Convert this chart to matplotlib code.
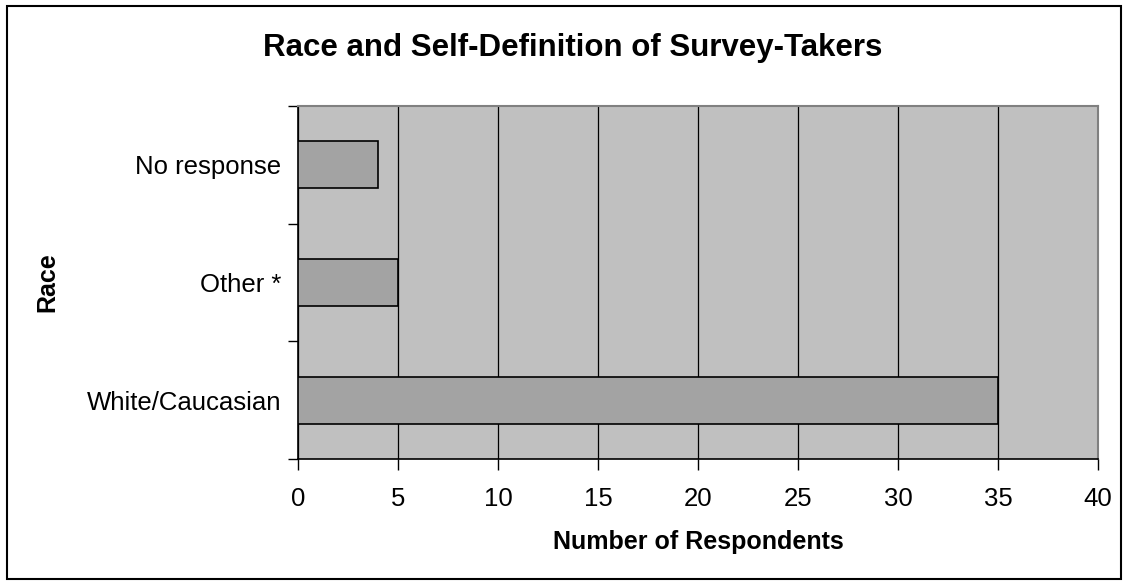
import matplotlib.pyplot as plt
from matplotlib.patches import Rectangle

plt.rcParams['font.family'] = ['Liberation Sans', 'DejaVu Sans']

categories = ['White/Caucasian', 'Other *', 'No response']
counts = [35, 5, 4]
xticks = [0, 5, 10, 15, 20, 25, 30, 35, 40]

W, H = 1128, 585
fig = plt.figure(figsize=(W / 100, H / 100), dpi=100)
ax = fig.add_axes([298 / W, 1 - 459 / H, 800 / W, 353 / H])

# frame round the whole chart
fig.patches.append(Rectangle((7 / W, 6 / H), 1114 / W, 573 / H, transform=fig.transFigure,
                             fill=False, edgecolor='black', linewidth=1.5))

ax.set_facecolor('#c0c0c0')
ax.barh(range(len(categories)), counts, height=0.4, color='#a3a3a3',
        edgecolor='black', linewidth=1.2, zorder=3)

ax.set_xlim(0, 40)
ax.set_ylim(-0.5, len(categories) - 0.5)
ax.set_xticks(xticks)
ax.set_xticklabels([str(t) for t in xticks], fontsize=18.5)
ax.xaxis.grid(True, color='black', linewidth=0.9, zorder=1)
ax.set_axisbelow(True)

ax.set_yticks([i - 0.5 for i in range(len(categories) + 1)])
ax.set_yticklabels([])
ax.set_yticks(range(len(categories)), minor=True)
ax.set_yticklabels(categories, minor=True, fontsize=18.5)
ax.tick_params(axis='y', which='minor', length=0, pad=12)
ax.tick_params(axis='y', which='major', length=7, width=1, direction='out')
ax.tick_params(axis='x', length=8, width=1, direction='out', pad=12)

for s in ['top', 'right']:
    ax.spines[s].set_color('#808080')
    ax.spines[s].set_linewidth(1.5)
for s in ['left', 'bottom']:
    ax.spines[s].set_color('black')
    ax.spines[s].set_linewidth(1.2)

ax.set_xlabel('Number of Respondents', fontsize=18, fontweight='bold', labelpad=14)
ax.set_ylabel('Race', fontsize=18, fontweight='bold', labelpad=20)
fig.text(573 / W, 1 - 48 / H, 'Race and Self-Definition of Survey-Takers', fontsize=22.5,
         fontweight='bold', ha='center', va='center')

fig.savefig('out.png', dpi=100)
